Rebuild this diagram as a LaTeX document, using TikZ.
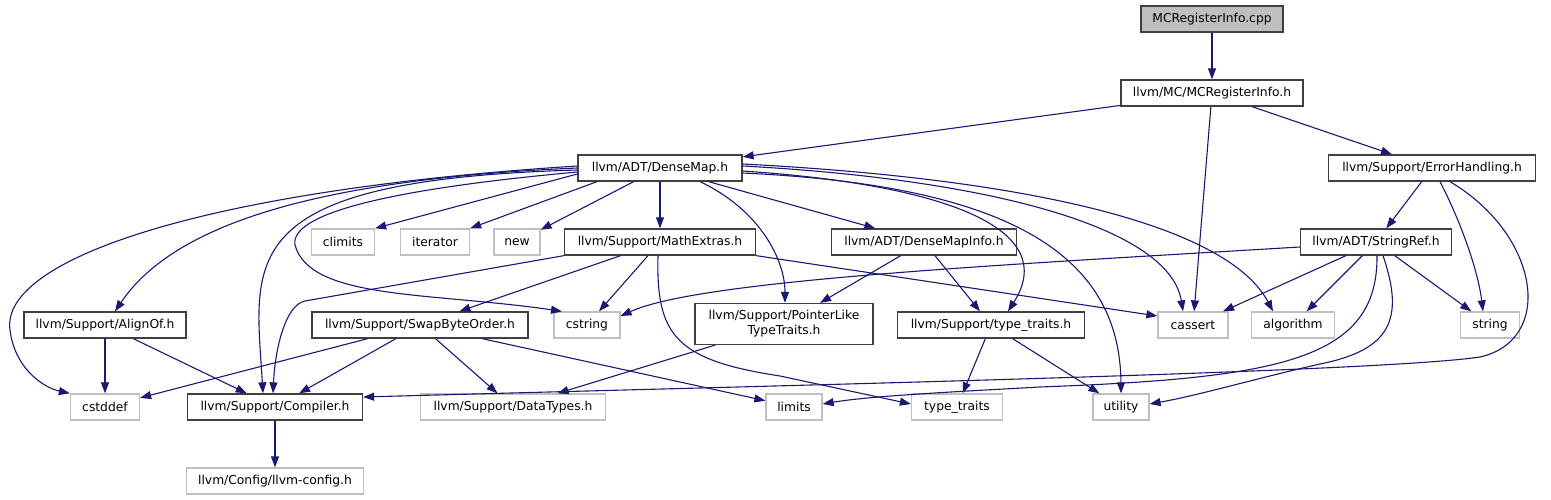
\documentclass[tikz,border=0pt]{standalone}
\usepackage{fontspec}
\setmainfont{DejaVu Sans}
\usetikzlibrary{arrows.meta}
\definecolor{edgeblue}{HTML}{191970}
\definecolor{boxgray}{HTML}{BFBFBF}
\definecolor{boxdark}{HTML}{404040}

\begin{document}
\begin{tikzpicture}[x=1pt,y=-1pt,
    hdr/.style={draw=boxdark, line width=1.3pt, minimum height=26pt, inner sep=2pt,
        font=\fontsize{12.3}{15}\selectfont},
    sys/.style={hdr, draw=boxgray},
    inc/.style={draw=edgeblue, line width=1.1pt, -{Triangle[length=11pt,width=8pt]}}]
    \useasboundingbox (0,0) rectangle (1551,500);

    % files
    \node[hdr, fill=boxgray, minimum width=142pt] (cpp) at (1212,19) {MCRegisterInfo.cpp};
    \node[hdr, minimum width=182pt] (mcreg) at (1212,93) {llvm/MC/MCRegisterInfo.h};
    \node[hdr, minimum width=164pt] (densemap) at (660,168) {llvm/ADT/DenseMap.h};
    \node[hdr, minimum width=207pt] (errh) at (1432,168) {llvm/Support/ErrorHandling.h};
    \node[sys, minimum width=63pt] (climits) at (343,242) {climits};
    \node[sys, minimum width=69pt] (iterator) at (435,242) {iterator};
    \node[sys, minimum width=46pt] (new) at (517,242) {new};
    \node[hdr, minimum width=191pt] (mathx) at (660,242) {llvm/Support/MathExtras.h};
    \node[hdr, minimum width=185pt] (dmi) at (924,242) {llvm/ADT/DenseMapInfo.h};
    \node[hdr, minimum width=151pt] (strref) at (1376,242) {llvm/ADT/StringRef.h};
    \node[hdr, minimum width=162pt] (alignof) at (105,325) {llvm/Support/AlignOf.h};
    \node[hdr, minimum width=216pt] (swap) at (420,325) {llvm/Support/SwapByteOrder.h};
    \node[sys, minimum width=66pt] (cstring) at (587,325) {cstring};
    \node[hdr, minimum width=178pt, minimum height=41pt, align=center] (ptrlike) at (784,324) {llvm/Support/PointerLike\\TypeTraits.h};
    \node[hdr, minimum width=187pt] (ttraitsh) at (991,325) {llvm/Support/type\_traits.h};
    \node[sys, minimum width=70pt] (cassert) at (1193,325) {cassert};
    \node[sys, minimum width=83pt] (algorithm) at (1293,325) {algorithm};
    \node[sys, minimum width=59pt] (string) at (1490,325) {string};
    \node[sys, minimum width=69pt] (cstddef) at (105,407) {cstddef};
    \node[hdr, minimum width=175pt] (compiler) at (275,407) {llvm/Support/Compiler.h};
    \node[sys, minimum width=185pt] (datatypes) at (513,407) {llvm/Support/DataTypes.h};
    \node[sys, minimum width=56pt] (limits) at (794,407) {limits};
    \node[sys, minimum width=91pt] (ttraits) at (957,407) {type\_traits};
    \node[sys, minimum width=56pt] (utility) at (1121,407) {utility};
    \node[sys, minimum width=177pt] (llvmcfg) at (275,481) {llvm/Config/llvm-config.h};

    % MCRegisterInfo
    \draw[inc] (cpp) -- (mcreg);
    \draw[inc] (mcreg) -- (densemap);
    \draw[inc] (mcreg) -- (cassert);
    \draw[inc] (mcreg) -- (errh);

    % DenseMap.h
    \draw[inc] ([yshift=2pt]densemap.west) .. controls (200,190) and (0,260) .. (10,330)
        .. controls (15,370) and (45,388) .. (cstddef.north west);
    \draw[inc] (densemap.west) .. controls (300,180) and (170,230) .. ([xshift=10pt]alignof.north);
    \draw[inc] ([yshift=-2pt]densemap.west) .. controls (230,180) and (255,260) .. ([xshift=-12pt]compiler.north);
    \draw[inc] ([yshift=-4pt]densemap.west) .. controls (380,190) and (290,215) .. (295,245)
        .. controls (310,300) and (430,292) .. ([xshift=-25pt]cstring.north);
    \draw[inc] ([yshift=-6pt]densemap.west) -- (climits.north east);
    \draw[inc] ([xshift=-63pt]densemap.south) -- (iterator.north east);
    \draw[inc] (densemap) -- (new);
    \draw[inc] (densemap) -- (mathx);
    \draw[inc] ([xshift=40pt]densemap.south) .. controls (760,210) and (785,260) .. ([xshift=1pt]ptrlike.north);
    \draw[inc] (densemap) -- (dmi);
    \draw[inc] ([yshift=-3pt]densemap.east) .. controls (950,185) and (1060,230) .. ([xshift=17pt]ttraitsh.north);
    \draw[inc] ([yshift=-5pt]densemap.east) .. controls (1000,185) and (1120,250) .. (utility.north);
    \draw[inc] ([yshift=2pt]densemap.east) .. controls (1000,180) and (1170,230) .. ([xshift=-10pt]cassert.north);
    \draw[inc] ([yshift=4pt]densemap.east) .. controls (1050,180) and (1230,230) .. ([xshift=-20pt]algorithm.north);

    % MathExtras.h
    \draw[inc] (mathx.south west) -- (305,301) .. controls (285,305) and (275,350) .. ([xshift=-2pt]compiler.north);
    \draw[inc] (mathx) -- (swap);
    \draw[inc] (mathx) -- (cstring);
    \draw[inc] ([xshift=-2pt]mathx.south) .. controls (656,335) and (675,360) .. (780,376) -- ([yshift=3pt]ttraits.west);
    \draw[inc] (mathx.south east) -- ([yshift=9pt]cassert.west);

    % DenseMapInfo.h, PointerLikeTypeTraits.h, type_traits.h
    \draw[inc] (dmi) -- (ptrlike);
    \draw[inc] (dmi) -- (ttraitsh);
    \draw[inc] (ptrlike) -- (datatypes);
    \draw[inc] (ttraitsh) -- (ttraits);
    \draw[inc] (ttraitsh) -- (utility);

    % ErrorHandling.h
    \draw[inc] (errh) -- (strref);
    \draw[inc] ([xshift=8pt]errh.south) .. controls (1460,220) and (1478,270) .. ([xshift=-7pt]string.north);
    \draw[inc] ([xshift=18pt]errh.south) .. controls (1540,235) and (1555,340) .. (1480,357)
        .. controls (1380,372) and (800,385) .. ([yshift=10pt]compiler.east);

    % StringRef.h
    \draw[inc] ([yshift=-5pt]strref.west) .. controls (1000,265) and (700,280) .. ([yshift=9pt]cstring.east);
    \draw[inc] (strref) -- (cassert);
    \draw[inc] (strref) -- (algorithm);
    \draw[inc] (strref) -- (string);
    \draw[inc] ([xshift=1pt]strref.south) .. controls (1378,360) and (1280,378) .. (1040,387)
        .. controls (950,392) and (870,396) .. ([yshift=3pt]limits.east);
    \draw[inc] ([xshift=7pt]strref.south) .. controls (1405,320) and (1390,350) .. (1320,364)
        .. controls (1250,380) and (1200,395) .. ([yshift=3pt]utility.east);

    % AlignOf.h, SwapByteOrder.h, Compiler.h
    \draw[inc] (alignof) -- (cstddef);
    \draw[inc] (alignof) -- (compiler);
    \draw[inc] (swap) -- (cstddef);
    \draw[inc] (swap) -- (compiler);
    \draw[inc] (swap) -- (datatypes);
    \draw[inc] (swap) -- (limits);
    \draw[inc] (compiler) -- (llvmcfg);
\end{tikzpicture}
\end{document}
